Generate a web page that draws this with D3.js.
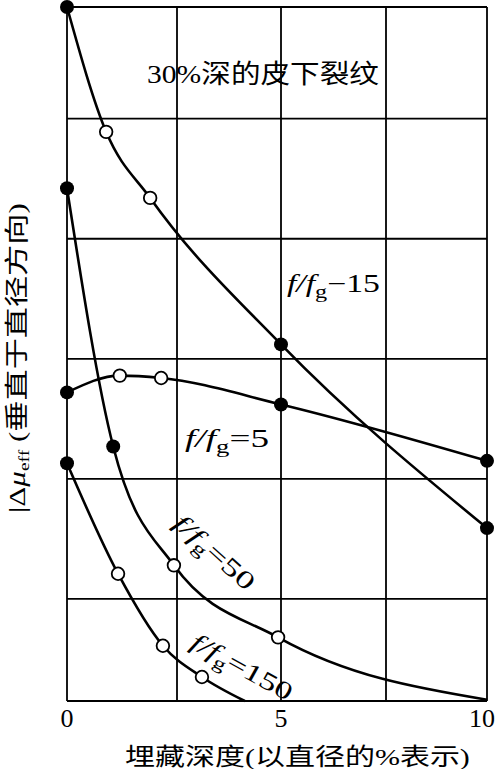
<!DOCTYPE html>
<html><head><meta charset="utf-8">
<script src="https://cdn.jsdelivr.net/npm/d3@7/dist/d3.min.js"></script>
<style>body{margin:0;background:#fff}svg{display:block}</style>
</head><body>
<script>
// ---- data ----
const xGridStops = [0, 2.5, 5, 7.5, 10];
const xTickValues = [0, 5, 10];
const xTickLabels = ["0", "5", "10"];
const yGridValues = [1, 2, 3, 4, 5];
const yDomain = [0.15, 5.93];

const depth15 = [0, 0.89, 1.89, 5, 10];
const value15 = [5.93, 4.89, 4.34, 3.12, 1.59];
const mark15  = ["filled", "open", "open", "filled", "filled"];

const depth5 = [0, 1.2, 2.14, 5, 10];
const value5 = [2.72, 2.86, 2.84, 2.62, 2.15];
const mark5  = ["filled", "open", "open", "filled", "filled"];

const depth50 = [0, 1.05, 2.43, 4.93, 10];
const value50 = [4.42, 2.27, 1.28, 0.68, 0.16];
const mark50  = ["filled", "filled", "open", "open", "none"];

const depth150 = [0, 1.16, 2.18, 3.1, 4.13];
const value150 = [2.13, 1.21, 0.61, 0.35, 0.15];
const mark150  = ["filled", "open", "open", "open", "none"];

const titleText = "30%深的皮下裂纹";
const xTitle = "埋藏深度(以直径的%表示)";
const yTitleMain = "|Δ";
const yTitleMu = "μ";
const yTitleSub = "eff";
const yTitleRest = " (垂直于直径方向)";

// ---- drawing ----
const W = 496, H = 769;
const svg = d3.select("body").append("svg").attr("width", W).attr("height", H);

const x = d3.scaleLinear().domain(xGridStops).range([67, 177, 281, 386, 487]);
const y = d3.scaleLinear().domain(yDomain).range([701, 7]);

const grid = svg.append("g").attr("stroke", "#000").attr("stroke-width", 1.8).attr("fill", "none");
xGridStops.forEach(v => {
  grid.append("line").attr("x1", x(v)).attr("x2", x(v)).attr("y1", y(yDomain[1])).attr("y2", y(yDomain[0]));
});
[yDomain[0], ...yGridValues, yDomain[1]].forEach(v => {
  grid.append("line").attr("x1", x(0)).attr("x2", x(10)).attr("y1", y(v)).attr("y2", y(v));
});

const series = [
  {d: depth15, v: value15, m: mark15},
  {d: depth5, v: value5, m: mark5},
  {d: depth50, v: value50, m: mark50},
  {d: depth150, v: value150, m: mark150}
];
const line = d3.line().x(p => x(p[0])).y(p => y(p[1])).curve(d3.curveMonotoneX);
series.forEach(s => {
  const pts = s.d.map((d, i) => [d, s.v[i], s.m[i]]);
  svg.append("path").attr("d", line(pts)).attr("fill", "none").attr("stroke", "#000")
    .attr("stroke-width", 2.6).attr("stroke-linejoin", "round");
});
series.forEach(s => {
  const pts = s.d.map((d, i) => [d, s.v[i], s.m[i]]);
  pts.filter(p => p[2] !== "none").forEach(p => {
    const c = svg.append("circle").attr("cx", x(p[0])).attr("cy", y(p[1]));
    if (p[2] === "filled") c.attr("r", 7).attr("fill", "#000");
    else c.attr("r", 6.3).attr("fill", "#fff").attr("stroke", "#000").attr("stroke-width", 1.8);
  });
});

// text helper: parts -> tspans, scaled to target width
function label(px, py, angle, width, size, parts) {
  const g = svg.append("g").attr("transform", `translate(${px},${py}) rotate(${angle})`);
  const t = g.append("text").attr("font-family", "'Liberation Serif','Noto Sans CJK SC',serif")
    .attr("font-size", size).attr("fill", "#000");
  parts.forEach(p => {
    const ts = t.append("tspan").text(p.t);
    if (p.italic) ts.attr("font-style", "italic");
    if (p.size) ts.attr("font-size", p.size);
    if (p.dy) ts.attr("dy", p.dy);
  });
  if (width) {
    const len = t.node().getComputedTextLength();
    t.attr("transform", `scale(${width / len},1)`);
  }
  return t;
}
function ffg(rest, sz) {
  return [
    {t: "f", italic: true}, {t: "/", italic: true}, {t: "f", italic: true},
    {t: "g", size: sz * 0.72, dy: sz * 0.22},
    {t: rest, dy: -sz * 0.22}
  ];
}

label(147, 83, 0, 232, 26, [{t: titleText}]);
label(287, 292, 0, 93, 25, ffg("−15", 25));
label(185, 447, 0, 84, 25, ffg("=5", 25));
label(172, 525, 42, 100, 25, ffg("=50", 25));
label(189, 647, 29, 112, 25, ffg("=150", 25));

// ticks
xTickValues.forEach((v, i) => {
  const last = i === xTickValues.length - 1;
  svg.append("text").attr("x", last ? 495 : x(v)).attr("y", 727)
    .attr("text-anchor", last ? "end" : "middle")
    .attr("font-family", "'Liberation Serif',serif").attr("font-size", 26)
    .text(xTickLabels[i]);
});

label(125, 765, 0, 345, 24, [{t: xTitle}]);
label(25, 513, -90, 310, 24, [
  {t: yTitleMain}, {t: yTitleMu, italic: true},
  {t: yTitleSub, size: 15, dy: 4}, {t: yTitleRest, dy: -4}
]);
</script>
</body></html>
